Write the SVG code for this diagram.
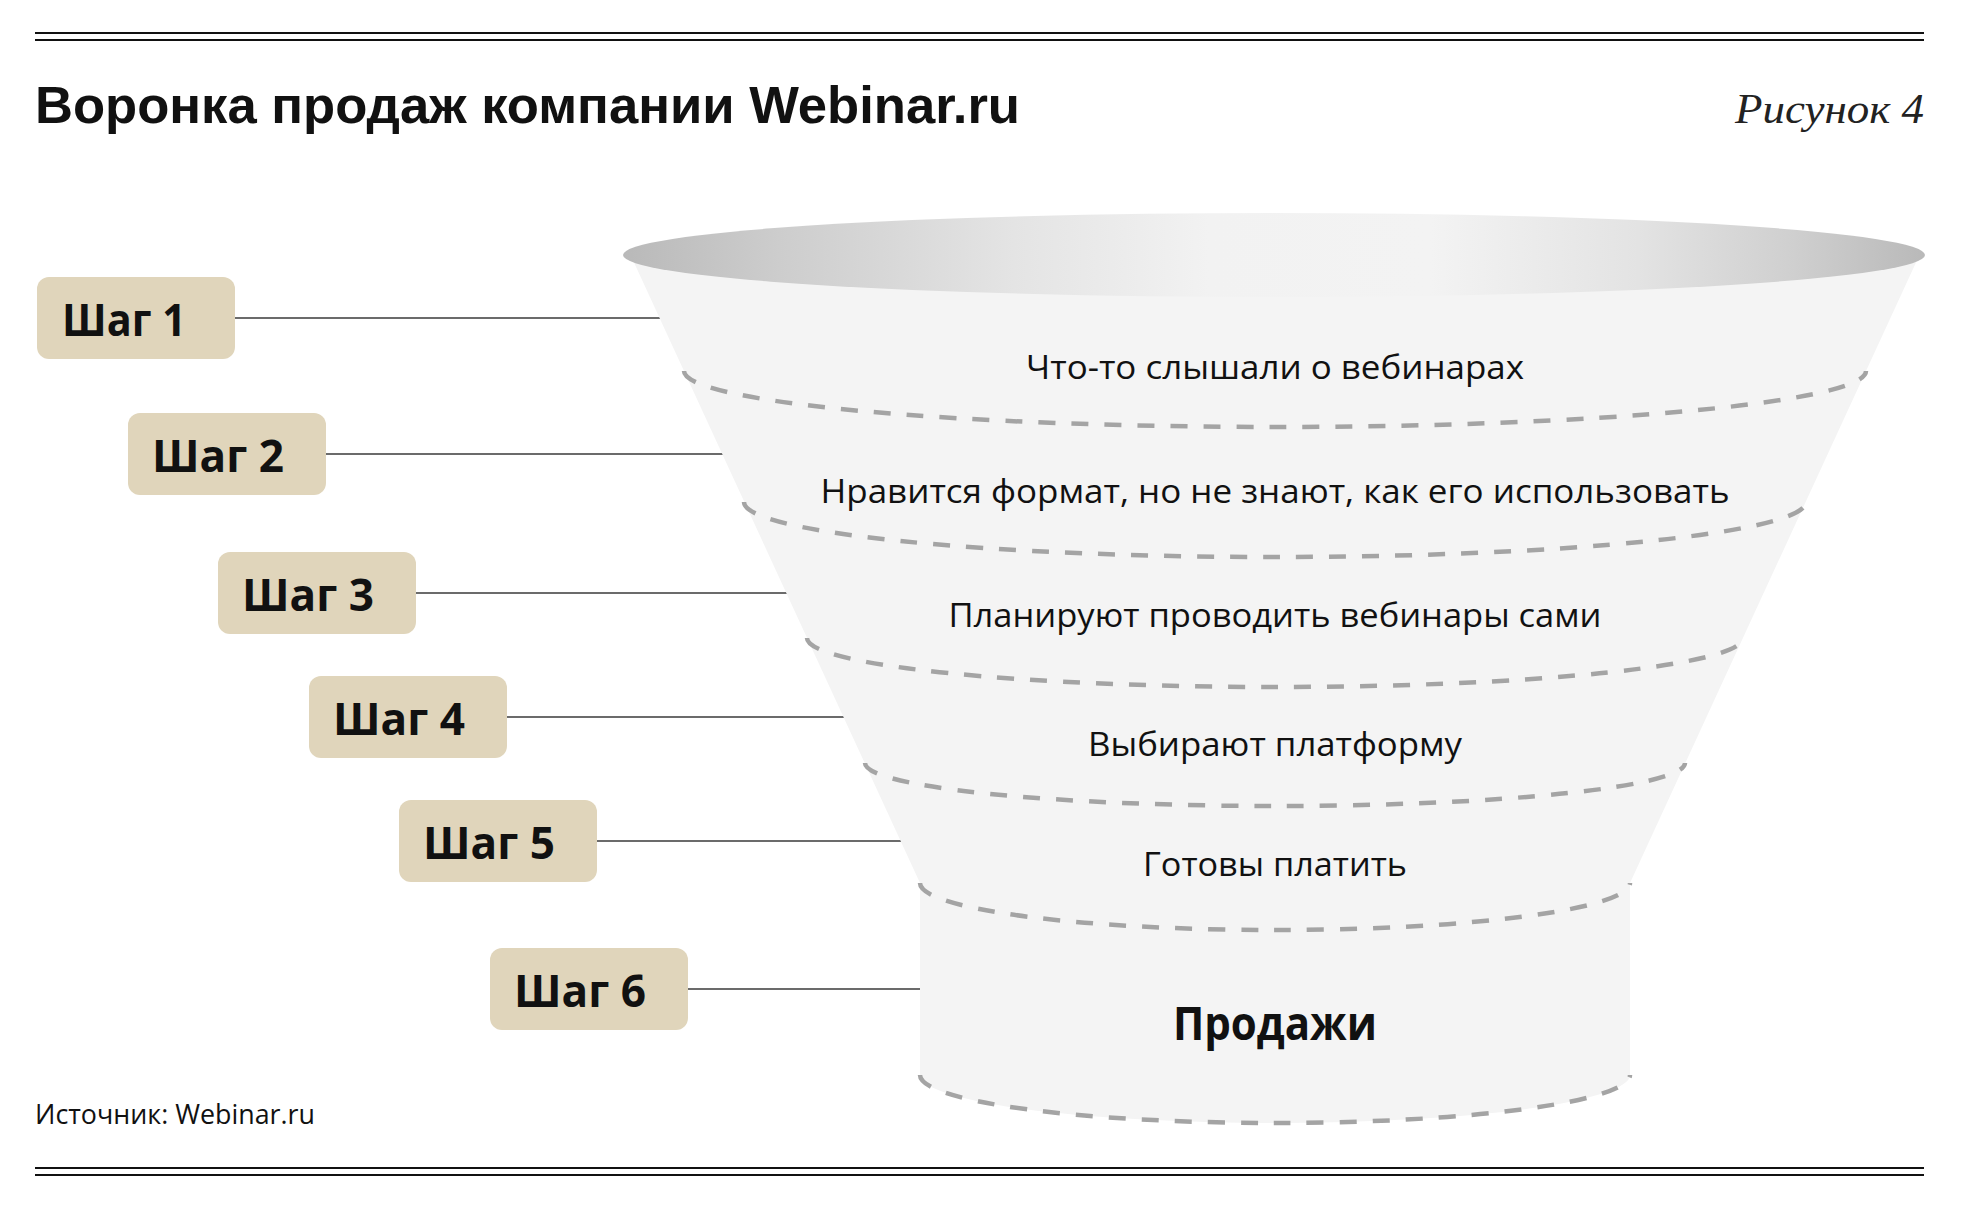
<svg xmlns="http://www.w3.org/2000/svg" width="1963" height="1209" viewBox="0 0 1963 1209">
<defs>
<linearGradient id="rim" x1="0" y1="0" x2="1" y2="0">
<stop offset="0" stop-color="#b9b9b9"/>
<stop offset="0.12" stop-color="#cdcdcd"/>
<stop offset="0.3" stop-color="#e4e4e4"/>
<stop offset="0.45" stop-color="#f2f2f2"/>
<stop offset="0.62" stop-color="#f3f3f3"/>
<stop offset="0.78" stop-color="#e3e3e3"/>
<stop offset="0.9" stop-color="#cfcfcf"/>
<stop offset="1" stop-color="#b9b9b9"/>
</linearGradient>
</defs>
<style>
.rule{stroke:#111;stroke-width:2;fill:none}
.box{fill:#e0d5bb}
.step{font-family:"Open Sans","Noto Sans","Liberation Sans",sans-serif;font-weight:700;font-size:45px;fill:#111}
.conn{stroke:#3a3a3a;stroke-width:1.5;fill:none}
.dash{stroke:#a4a4a4;stroke-width:4.5;fill:none;stroke-dasharray:17 16}
.lvl{font-family:"Open Sans","Noto Sans","Liberation Sans",sans-serif;font-size:32px;fill:#111;text-anchor:middle}
.big{font-size:46px;font-weight:700}
.body{fill:#f4f4f4}
</style>
<rect width="1963" height="1209" fill="#ffffff"/>

<g id="header">
<line class="rule" x1="35" y1="33" x2="1924" y2="33"/>
<line class="rule" x1="35" y1="40" x2="1924" y2="40"/>
<text x="35" y="123" font-family="Liberation Sans, Arial, sans-serif" font-weight="700" font-size="52" fill="#111" textLength="985" lengthAdjust="spacingAndGlyphs">Воронка продаж компании Webinar.ru</text>
<text x="1924" y="123" font-family="Liberation Serif, Times New Roman, serif" font-style="italic" font-size="42" fill="#222" text-anchor="end" textLength="189" lengthAdjust="spacingAndGlyphs">Рисунок 4</text>
</g>

<g id="connectors">
<line class="conn" x1="235" y1="318" x2="662" y2="318"/>
<line class="conn" x1="326" y1="454" x2="725" y2="454"/>
<line class="conn" x1="416" y1="593" x2="788" y2="593"/>
<line class="conn" x1="507" y1="717" x2="846" y2="717"/>
<line class="conn" x1="597" y1="841" x2="903" y2="841"/>
<line class="conn" x1="688" y1="989" x2="922" y2="989"/>
</g>

<g id="funnel">
<path class="body" d="M 631,256 L 920,883 L 920,1075 A 355,48 0 0 0 1630,1075 L 1630,883 L 1919,256 Z"/>
<ellipse cx="1274" cy="255" rx="651" ry="42" fill="url(#rim)"/>
<path class="dash" d="M 684,371 A 591,56 0 0 0 1866,371"/>
<path class="dash" d="M 744,502 A 531,55 0 0 0 1806,502"/>
<path class="dash" d="M 807,638 A 468,49 0 0 0 1743,638"/>
<path class="dash" d="M 865,763 A 410,43 0 0 0 1685,763"/>
<path class="dash" d="M 920,883 A 355,47 0 0 0 1630,883"/>
<path class="dash" d="M 920,1075 A 355,48 0 0 0 1630,1075"/>
</g>

<g id="level1"><text class="lvl" x="1275" y="379" textLength="498" lengthAdjust="spacingAndGlyphs">Что-то слышали о вебинарах</text></g>
<g id="level2"><text class="lvl" x="1275" y="503" textLength="909" lengthAdjust="spacingAndGlyphs">Нравится формат, но не знают, как его использовать</text></g>
<g id="level3"><text class="lvl" x="1275" y="627" textLength="653" lengthAdjust="spacingAndGlyphs">Планируют проводить вебинары сами</text></g>
<g id="level4"><text class="lvl" x="1275" y="756" textLength="374" lengthAdjust="spacingAndGlyphs">Выбирают платформу</text></g>
<g id="level5"><text class="lvl" x="1275" y="876" textLength="264" lengthAdjust="spacingAndGlyphs">Готовы платить</text></g>
<g id="level6"><text class="lvl big" x="1275" y="1040" textLength="204" lengthAdjust="spacingAndGlyphs">Продажи</text></g>

<g id="step1"><rect class="box" x="37" y="277" width="198" height="82" rx="12"/><text class="step" x="62" y="336" textLength="124" lengthAdjust="spacingAndGlyphs">Шаг 1</text></g>
<g id="step2"><rect class="box" x="128" y="413" width="198" height="82" rx="12"/><text class="step" x="152" y="472" textLength="132" lengthAdjust="spacingAndGlyphs">Шаг 2</text></g>
<g id="step3"><rect class="box" x="218" y="552" width="198" height="82" rx="12"/><text class="step" x="242" y="611" textLength="132" lengthAdjust="spacingAndGlyphs">Шаг 3</text></g>
<g id="step4"><rect class="box" x="309" y="676" width="198" height="82" rx="12"/><text class="step" x="333" y="735" textLength="132" lengthAdjust="spacingAndGlyphs">Шаг 4</text></g>
<g id="step5"><rect class="box" x="399" y="800" width="198" height="82" rx="12"/><text class="step" x="423" y="859" textLength="132" lengthAdjust="spacingAndGlyphs">Шаг 5</text></g>
<g id="step6"><rect class="box" x="490" y="948" width="198" height="82" rx="12"/><text class="step" x="514" y="1007" textLength="132" lengthAdjust="spacingAndGlyphs">Шаг 6</text></g>

<g id="footer">
<text x="35" y="1124" font-family="Open Sans, Noto Sans, Liberation Sans, sans-serif" font-size="27" fill="#111" textLength="280" lengthAdjust="spacingAndGlyphs">Источник: Webinar.ru</text>
<line class="rule" x1="35" y1="1168" x2="1924" y2="1168"/>
<line class="rule" x1="35" y1="1175" x2="1924" y2="1175"/>
</g>
</svg>
